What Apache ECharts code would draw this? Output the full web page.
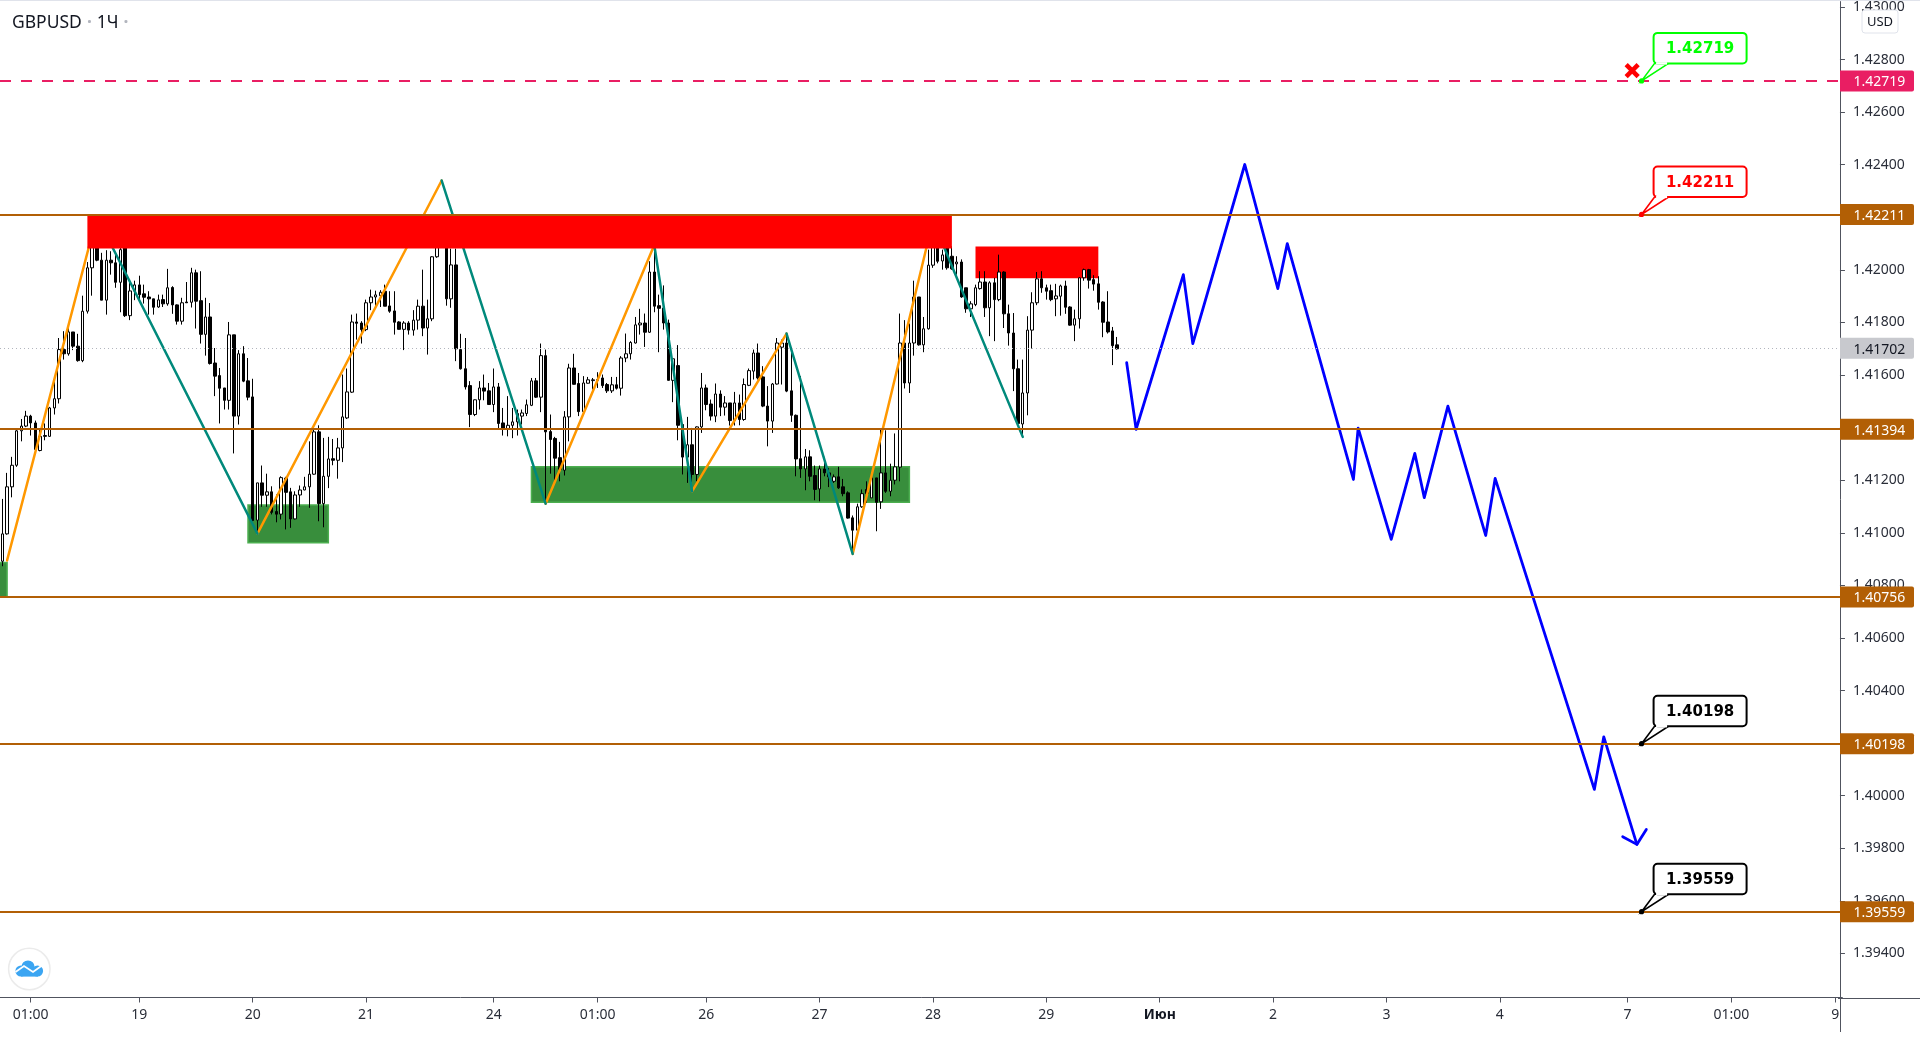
<!DOCTYPE html>
<html>
<head>
<meta charset="utf-8">
<title>GBPUSD 1Ч</title>
<script src="https://cdn.jsdelivr.net/npm/echarts@6/dist/echarts.min.js"></script>
<style>html,body{margin:0;padding:0;background:#fff;overflow:hidden}#c{width:1920px;height:1040px}</style>
</head>
<body>
<div id="c"></div>
<script>
// All chart values are in points above 1.40000 (1 point = 0.00001): [open, close, low, high]
const candles = [
[892,996,873,1129],[996,1175,993,1228],[1175,1257,1135,1289],[1257,1388,1251,1393],[1388,1406,1348,1433],[1406,1444,1402,1464],[1444,1418,1370,1449],[1418,1317,1310,1427],[1313,1367,1310,1393],[1370,1367,1352,1416],
[1367,1475,1365,1479],[1475,1510,1450,1577],[1510,1697,1492,1741],[1697,1681,1659,1767],[1681,1764,1674,1779],[1764,1710,1695,1764],[1710,1655,1651,1757],[1655,1843,1649,1902],[1843,2008,1834,2030],[2008,2095,1902,2140],
[2140,2037,2033,2170],[2037,1885,1885,2065],[1885,2037,1830,2075],[2037,2027,1982,2071],[2027,1953,1932,2058],[1953,2077,1839,2100],[2130,1826,1821,2150],[1826,1920,1809,1961],[1920,1943,1885,1959],[1943,1906,1885,1978],
[1909,1896,1872,1944],[1897,1890,1830,1919],[1890,1858,1830,1890],[1859,1886,1856,1906],[1887,1871,1859,1906],[1871,1932,1864,2004],[1933,1867,1833,1938],[1867,1805,1792,1869],[1805,1875,1792,1894],[1878,1875,1875,1954],
[1877,1989,1857,2008],[1989,1881,1777,2001],[1883,1755,1720,1995],[1755,1821,1674,1894],[1821,1644,1640,1874],[1646,1596,1520,1703],[1598,1550,1416,1627],[1551,1504,1469,1551],[1504,1753,1469,1802],[1753,1444,1302,1753],
[1444,1681,1412,1695],[1681,1577,1573,1710],[1578,1516,1504,1665],[1517,1047,1044,1586],[1048,1190,996,1190],[1190,1143,1099,1256],[1143,1156,1099,1225],[1156,1078,1070,1177],[1081,1071,1040,1146],[1071,1210,1051,1215],
[1208,1154,1013,1213],[1156,1053,1019,1171],[1053,1144,1051,1158],[1144,1163,1099,1180],[1163,1175,1162,1213],[1175,1223,1095,1348],[1223,1384,1221,1403],[1384,1111,1044,1409],[1111,1215,1021,1361],[1215,1281,1170,1365],
[1282,1276,1257,1357],[1276,1323,1206,1361],[1323,1441,1269,1602],[1437,1536,1433,1625],[1535,1802,1532,1830],[1802,1797,1735,1834],[1798,1773,1720,1805],[1773,1875,1767,1887],[1875,1897,1847,1925],[1897,1905,1862,1921],
[1902,1915,1859,1923],[1919,1862,1862,1944],[1863,1843,1837,1919],[1844,1801,1754,1919],[1802,1774,1773,1805],[1774,1798,1695,1805],[1798,1771,1754,1805],[1771,1809,1750,1847],[1809,1862,1773,1887],[1862,1779,1748,2001],
[1779,1814,1678,1887],[1814,2050,1805,2052],[2050,2115,2046,2160],[2150,2100,2085,2200],[2100,1890,1864,2130],[1890,2019,1856,2081],[2019,1700,1653,2081],[1697,1624,1621,1757],[1624,1555,1545,1741],[1560,1450,1402,1577],
[1450,1506,1444,1507],[1506,1551,1469,1577],[1551,1539,1504,1602],[1540,1488,1488,1570],[1488,1555,1459,1625],[1555,1416,1395,1570],[1418,1395,1370,1475],[1395,1409,1367,1520],[1409,1422,1360,1475],[1422,1454,1370,1469],
[1444,1456,1412,1469],[1454,1487,1444,1507],[1485,1578,1482,1589],[1578,1516,1513,1589],[1516,1674,1459,1720],[1674,1384,1111,1697],[1385,1355,1225,1450],[1359,1284,1184,1365],[1286,1241,1196,1346],[1238,1441,1218,1463],
[1441,1627,1348,1643],[1627,1565,1564,1681],[1568,1461,1444,1608],[1461,1570,1459,1596],[1569,1582,1568,1593],[1579,1582,1545,1589],[1580,1583,1551,1611],[1589,1560,1551,1602],[1564,1540,1532,1570],[1540,1563,1532,1593],
[1563,1550,1545,1593],[1550,1665,1522,1672],[1665,1681,1649,1758],[1681,1724,1659,1729],[1722,1791,1720,1821],[1791,1798,1754,1852],[1798,1763,1707,1834],[1763,1992,1760,2033],[1992,1862,1839,2081],[1864,1854,1687,1906],
[1855,1798,1773,1941],[1798,1580,1579,1811],[1580,1662,1497,1665],[1636,1409,1352,1714],[1412,1288,1222,1412],[1288,1335,1190,1441],[1335,1222,1165,1399],[1222,1403,1196,1405],[1403,1551,1380,1608],[1551,1488,1466,1564],
[1490,1444,1427,1507],[1444,1528,1421,1568],[1528,1478,1444,1542],[1478,1494,1446,1520],[1494,1427,1408,1494],[1427,1494,1408,1536],[1494,1431,1409,1526],[1431,1564,1426,1587],[1561,1617,1558,1625],[1615,1684,1583,1697],
[1684,1589,1583,1720],[1593,1482,1478,1634],[1482,1425,1329,1558],[1425,1566,1380,1570],[1566,1722,1564,1741],[1706,1722,1564,1735],[1722,1539,1535,1754],[1540,1447,1422,1697],[1447,1281,1215,1450],[1282,1243,1209,1596],
[1243,1289,1162,1319],[1289,1215,1196,1314],[1218,1165,1124,1256],[1167,1243,1120,1256],[1243,1228,1215,1289],[1228,1213,1174,1247],[1196,1213,1190,1222],[1213,1171,1167,1251],[1175,1149,1139,1205],[1152,1056,1054,1158],
[1057,1010,917,1066],[1010,1099,1006,1111],[1099,1149,1095,1165],[1165,1150,1114,1196],[1133,1209,1133,1209],[1209,1116,1006,1209],[1118,1228,1091,1393],[1228,1158,1152,1390],[1158,1200,1139,1263],[1200,1251,1184,1378],
[1250,1722,1196,1834],[1722,1570,1549,1809],[1570,1722,1532,1796],[1722,1897,1674,1959],[1897,1715,1712,1897],[1715,1776,1687,1821],[1776,2018,1773,2077],[2018,2090,2008,2130],[2115,2033,2025,2145],[2034,2057,2001,2077],
[2090,2008,2001,2120],[2052,2004,2001,2090],[2023,2030,1982,2052],[2030,1897,1894,2040],[1932,1852,1837,1932],[1852,1871,1821,1881],[1868,1932,1862,1944],[1929,1954,1925,1995],[1954,1856,1821,1995],[1856,1951,1748,1957],
[1951,1887,1729,1970],[1887,1992,1881,2058],[1992,1833,1779,1995],[1833,1760,1712,1868],[1760,1624,1539,1836],[1624,1416,1412,1659],[1414,1532,1361,1659],[1532,1771,1447,1824],[1771,1875,1701,1915],[1875,1966,1866,1992],
[1966,1932,1913,1995],[1932,1919,1887,1944],[1921,1887,1881,1944],[1890,1901,1824,1947],[1900,1939,1826,1944],[1939,1858,1833,1959],[1859,1790,1788,1862],[1790,1814,1729,1849],[1814,1970,1777,1972],[1970,2001,1959,2005],
[2001,1961,1929,2004],[1963,1946,1921,1980],[1947,1877,1849,1976],[1878,1801,1744,1881],[1802,1764,1758,1919],[1768,1712,1638,1783],[1715,1700,1697,1745]
];
const barCount = 390;
// bar index -> axis label
const tickBars   = [6,29,53,77,104,126,149,173,197,221,245,269,293,317,344,366,388];
const tickLabels = ['01:00','19','20','21','24','01:00','26','27','28','29','Июн','2','3','4','7','01:00','9'];
const priceTicks = [1.394,1.396,1.398,1.400,1.402,1.404,1.406,1.408,1.410,1.412,1.414,1.416,1.418,1.420,1.422,1.424,1.426,1.428,1.430];
const brownLevels = [1.42211,1.41394,1.40756,1.40198,1.39559];
const targetLevel = 1.42719;
const lastPrice   = 1.41702;
// [bar, points]
const orangeLegs = [[[1,895],[20,2203]],[[54,997],[93,2340]],[[115,1111],[138,2095]],[[146,1158],[166,1758]],[[180,920],[197,2188]]];
const tealLegs   = [[[20,2203],[54,997]],[[93,2340],[115,1111]],[[138,2095],[146,1158]],[[166,1758],[180,920]],[[197,2188],[216,1365]]];
const forecastPath = [[238,1647],[240,1394],[250,1982],[252,1720],[263,2401],[270,1929],[272,2100],[286,1203],[287,1398],[294,975],[299,1302],[301,1134],[306,1482],[314,990],[316,1207],[337,24],[339,224],[346,-185]];
const forecastHead = [[343,-156],[346,-185],[348,-128]];
// [barFrom, barTo, pointsTop, pointsBottom]
const supportZones = [[-1,1,887,756],[52,69,1106,962],[112,192,1251,1116]];
const lowerResistanceZone = [[206,232,2089,1968]];
const upperResistanceZone = [[18,201,2211,2081]];
const callouts = [
  {bar:347,price:1.42719,color:'#00FF00',text:'1.42719'},
  {bar:347,price:1.42211,color:'#FF0000',text:'1.42211'},
  {bar:347,price:1.40198,color:'#000000',text:'1.40198'},
  {bar:347,price:1.39559,color:'#000000',text:'1.39559'}
];
const crossMark = [[345,2758]];

const FONT = '"Noto Sans","Open Sans",sans-serif';
const BROWN = '#B25F05', PINK = '#E91E63', AXIS = '#50535E', TEXT = '#2A2E39';
const price = v => +(1.4 + v/1e5).toFixed(5);
const categories = Array.from({length:barCount},(_,i)=>{const k=tickBars.indexOf(i);return k<0?'':tickLabels[k];});
const isTick = i => tickBars.indexOf(i)>=0;

function zoneSeries(data,z,fill,stroke,clip){
  return {type:'custom',z,clip:!!clip,silent:true,encode:{x:0,y:2},
    data:data.map(d=>[d[0],d[1],price(d[2]),price(d[3])]),
    renderItem(p,api){
      const a=api.coord([api.value(0),api.value(2)]),b=api.coord([api.value(1),api.value(3)]);
      return {type:'rect',shape:{x:a[0],y:a[1],width:b[0]-a[0],height:b[1]-a[1]},
        style:{fill,stroke:stroke||null,lineWidth:stroke?1.5:0}};
    }};
}
function lineSeries(pts,color,width,z){
  return {type:'line',z,silent:true,symbol:'none',showSymbol:false,animation:false,
    data:pts.map(d=>[d[0],price(d[1])]),lineStyle:{color,width,cap:'round',join:'round'}};
}
const tagRows = brownLevels.map(v=>[v,BROWN,'#fff']).concat([[targetLevel,PINK,'#fff'],[lastPrice,'#C8C9CE','#131722']]);

const series = [
  zoneSeries(supportZones,1,'#388E3C','#4CAF50',true),
  zoneSeries(lowerResistanceZone,1,'#FF0000'),
  {type:'candlestick',z:2,silent:true,barWidth:3,data:candles.map(c=>c.map(price)),
   itemStyle:{color:'#FFFFFF',color0:'#000000',borderColor:'#000000',borderColor0:'#000000',borderColorDoji:'#000000',borderWidth:1}},
  ...orangeLegs.map(l=>lineSeries(l,'#FF9800',2.5,3)),
  ...tealLegs.map(l=>lineSeries(l,'#00897B',2.5,3)),
  lineSeries(forecastPath,'#0000FF',2.8,3),
  lineSeries(forecastHead,'#0000FF',2.8,3),
  zoneSeries(upperResistanceZone,4,'#FF0000'),
  {type:'line',z:5,silent:true,data:[],markLine:{silent:true,symbol:'none',animation:false,z:5,precision:5,label:{show:false},
    data:[
      ...brownLevels.map(v=>({yAxis:v,lineStyle:{color:BROWN,width:2,type:'solid'}})),
      {yAxis:targetLevel,lineStyle:{color:PINK,width:2,type:[11,10]}},
      {yAxis:lastPrice,lineStyle:{color:'#B2B5BE',width:1,type:[1,3]}}
    ]}},
  {type:'custom',z:8,silent:true,encode:{x:0,y:1},
    data:crossMark.map(d=>[d[0],price(d[1])]),
    renderItem(p,api){
      const c=api.coord([api.value(0),api.value(1)]),r=6;
      return {type:'group',children:[
        {type:'line',shape:{x1:c[0]-r,y1:c[1]-r,x2:c[0]+r,y2:c[1]+r},style:{stroke:'#FF0000',lineWidth:4.5}},
        {type:'line',shape:{x1:c[0]+r,y1:c[1]-r,x2:c[0]-r,y2:c[1]+r},style:{stroke:'#FF0000',lineWidth:4.5}}]};
    }},
  {type:'custom',z:9,silent:true,encode:{x:0,y:1},
    data:callouts.map(c=>[c.bar,c.price]),
    renderItem(p,api){
      const c=api.coord([api.value(0),api.value(1)]),o=callouts[p.dataIndex],ax=c[0],ay=c[1];
      const L=ax+12,T=ay-48,W=93,H=30.5,B=T+H;
      return {type:'group',children:[
        {type:'polygon',shape:{points:[[L+1,B],[ax,ay],[L+15,B]]},style:{fill:'#fff',stroke:o.color,lineWidth:1.6}},
        {type:'rect',shape:{x:L,y:T,width:W,height:H,r:4},style:{fill:'#fff',stroke:o.color,lineWidth:2}},
        {type:'line',shape:{x1:L+2.5,y1:B,x2:L+13.5,y2:B},style:{stroke:'#fff',lineWidth:2.4}},
        {type:'circle',shape:{cx:ax,cy:ay,r:2.6},style:{fill:o.color}},
        {type:'text',x:L+W/2,y:T+H/2+1,style:{text:o.text,fill:o.color,font:'bold 15px "DejaVu Sans"',align:'center',verticalAlign:'middle'}}
      ]};
    }},
  {type:'custom',z:10,silent:true,encode:{y:1},clip:false,
    data:tagRows.map((r,i)=>[i,r[0]]),
    renderItem(p,api){
      const y=api.coord([0,api.value(1)])[1],r=tagRows[p.dataIndex];
      return {type:'group',children:[
        {type:'rect',shape:{x:1840,y:y-10.5,width:74,height:21,r:[0,2,2,0]},style:{fill:r[1]}},
        {type:'text',x:1853.5,y:y+1.5,style:{text:r[0].toFixed(5),fill:r[2],font:'14px '+FONT,verticalAlign:'middle',align:'left'}}
      ]};
    }}
];

const gearSpokes = [];
for(let a=0;a<8;a++){const t=a*Math.PI/4;gearSpokes.push({type:'line',shape:{x1:1880+7*Math.cos(t),y1:1016+7*Math.sin(t),x2:1880+9.5*Math.cos(t),y2:1016+9.5*Math.sin(t)},style:{stroke:'#131722',lineWidth:1.4}});}

const option = {
  animation:false,backgroundColor:'#FFFFFF',
  title:{left:12,top:14,padding:0,text:'{a|GBPUSD} {d|·} {a|1Ч} {d|·}',
    textStyle:{rich:{a:{fontFamily:FONT,fontSize:17.5,color:'#131722',fontWeight:'normal'},d:{fontFamily:FONT,fontSize:17.5,color:'#B2B5BE',fontWeight:'bold'}}}},
  grid:{left:-1.14,top:1.5,width:1843.5,height:996,containLabel:false},
  xAxis:{type:'category',data:categories,boundaryGap:true,
    axisLine:{lineStyle:{color:AXIS,width:1}},
    axisTick:{show:true,alignWithLabel:true,length:5,interval:isTick,lineStyle:{color:AXIS}},
    axisLabel:{interval:isTick,margin:11,hideOverlap:false,color:TEXT,fontFamily:FONT,fontSize:14,
      formatter:v=>v==='Июн'?'{m|Июн}':v,rich:{m:{fontFamily:FONT,fontSize:14,fontWeight:'bold',color:'#131722'}}},
    splitLine:{show:false}},
  yAxis:{type:'value',position:'right',offset:-2.4,min:1.3923263,max:1.4302058,scale:true,
    axisLine:{show:true,lineStyle:{color:AXIS,width:1}},
    axisTick:{show:true,length:5,customValues:priceTicks,lineStyle:{color:AXIS}},
    axisLabel:{margin:13,padding:[3,0,0,0],customValues:priceTicks,color:TEXT,fontFamily:FONT,fontSize:14,formatter:v=>v.toFixed(5)},
    splitLine:{show:false}},
  series,
  graphic:[
    {type:'rect',z:100,shape:{x:0,y:0,width:1920,height:1},style:{fill:'#E0E3EB'}},
    {type:'rect',z:100,shape:{x:1840.5,y:999,width:80,height:41},style:{fill:'#fff'}},
    {type:'line',z:101,shape:{x1:1840.5,y1:990,x2:1840.5,y2:1032},style:{stroke:AXIS,lineWidth:1}},
    {type:'line',z:101,shape:{x1:1838,y1:998.5,x2:1920,y2:998.5},style:{stroke:AXIS,lineWidth:1}},
    {type:'rect',z:102,shape:{x:1862,y:10,width:36,height:23,r:3},style:{fill:'#fff',stroke:'#E0E3EB',lineWidth:1}},
    {type:'text',z:103,x:1880,y:22.5,style:{text:'USD',fill:'#131722',font:'13px '+FONT,align:'center',verticalAlign:'middle'}},
    {type:'group',z:103,children:[{type:'circle',shape:{cx:1880,cy:1016,r:6.5},style:{fill:'#fff',stroke:'#131722',lineWidth:1.3}},...gearSpokes]},
    {type:'group',z:103,children:[
      {type:'circle',shape:{cx:29.3,cy:969,r:20.7},style:{fill:'#fff',stroke:'#EBEBEB',lineWidth:1.5}},
      {type:'circle',shape:{cx:28,cy:967,r:6.6},style:{fill:'#3BA5F2'}},
      {type:'circle',shape:{cx:21,cy:971,r:5.6},style:{fill:'#3BA5F2'}},
      {type:'circle',shape:{cx:37.5,cy:971,r:5.6},style:{fill:'#3BA5F2'}},
      {type:'rect',shape:{x:21,y:970,width:17,height:6.6},style:{fill:'#3BA5F2'}},
      {type:'polyline',shape:{points:[[15.5,972],[24,966],[33,972],[42,965.5]]},style:{stroke:'#fff',lineWidth:1.8,fill:null}}
    ]}
  ]
};
echarts.init(document.getElementById('c'),null,{renderer:'canvas'}).setOption(option);
</script>
</body>
</html>
